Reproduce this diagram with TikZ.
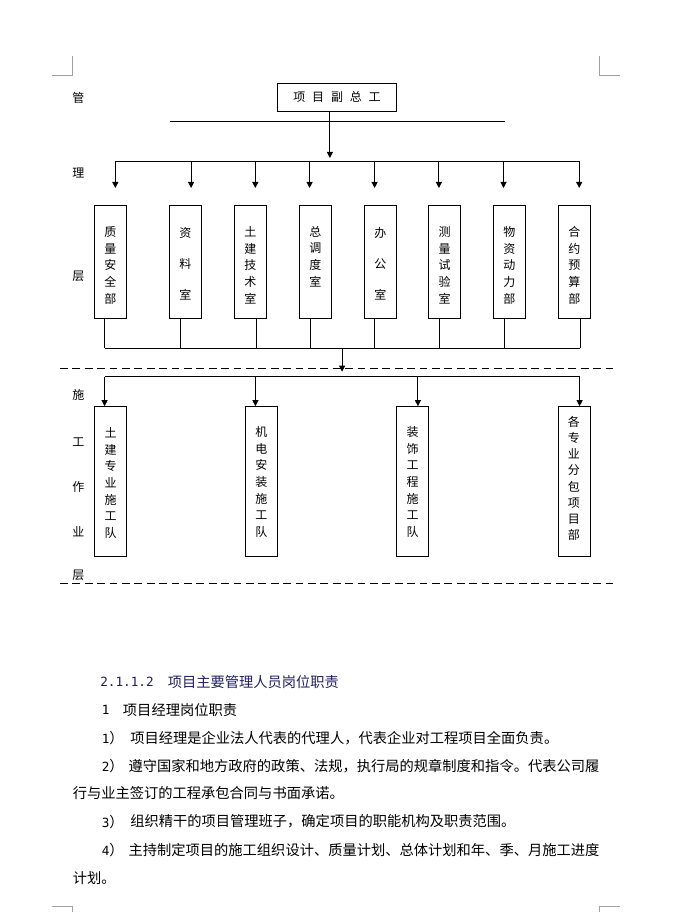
\documentclass[tikz,border=0pt]{standalone}
\usepackage{fontspec}
\newfontfamily\cjk{Noto Sans CJK SC}
\newfontfamily\monofnt{DejaVu Sans Mono}
\usetikzlibrary{arrows.meta}
\definecolor{headnavy}{HTML}{202060}
\definecolor{cropgray}{HTML}{A0A0A0}
\newcommand\colchars[5]{%
  \foreach \ltr [count=\k] in {#5} \node[ch] (#1c\k) at (#2,{#3+#4*(\k-1)}) {\ltr};}
\begin{document}
\begin{tikzpicture}[x=0.75pt,y=-0.75pt,
  line/.style={draw=black,line width=0.75pt},
  arr/.style={line,-{Triangle[length=4.5pt,width=4.5pt]}},
  box/.style={draw=black,line width=0.75pt,minimum width=24.15pt,inner sep=0pt},
  deptbox/.style={box,minimum height=84.4pt},
  teambox/.style={box,minimum height=112pt},
  ch/.style={font=\cjk\fontsize{9}{10}\selectfont,inner sep=0pt},
  body/.style={font=\cjk\fontsize{10.7}{12}\selectfont,inner sep=0pt,anchor=west},
  num/.style={font=\monofnt\fontsize{9.5}{11}\selectfont,inner sep=0pt,anchor=west},
  crop/.style={draw=cropgray,line width=0.75pt},
  sep/.style={draw=black,line width=0.75pt,dash pattern=on 5.8pt off 3.5pt}]

\fill[white] (0,0) rectangle (674,912);
\useasboundingbox (0,0) rectangle (674,912);

% crop marks
\draw[crop] (51.5,75.7) -- (72.5,75.7) -- (72.5,56);
\draw[crop] (620,75.7) -- (599,75.7) -- (599,56);
\draw[crop] (51.5,906) -- (72.5,906) -- (72.5,912);
\draw[crop] (620,906) -- (599,906) -- (599,912);

% side labels
\node[ch] (sg1) at (78.3,98.3) {管};
\node[ch] (sg2) at (78.3,173.3) {理};
\node[ch] (sg3) at (78.3,276.7) {层};
\node[ch] (sw1) at (78.3,395) {施};
\node[ch] (sw2) at (78.3,441.7) {工};
\node[ch] (sw3) at (78.3,487) {作};
\node[ch] (sw4) at (78.3,532) {业};
\node[ch] (sw5) at (78.3,575) {层};

% title
\node[box,minimum width=89.5pt,minimum height=20.8pt,font=\cjk\fontsize{9}{10}\selectfont]
  (title) at (337,97.2) {项\kern5.1pt 目\kern5.1pt 副\kern5.1pt 总\kern5.1pt 工};
\coordinate (ul) at (170,122);
\coordinate (ur) at (504.6,122);
\draw[line] (ul) -- (ur);
\coordinate (tdrop) at (329.9,158);
\draw[arr] (title.south -| tdrop) -- (tdrop);

% top bus and arrows
\coordinate (busL) at (115.3,161.5);
\coordinate (busR) at (579.2,161.5);
\draw[line] (busL) -- (busR);
\foreach \x [count=\i] in {115.3,191.1,255.3,309.6,374.6,438.9,503.5,579.2} {
  \coordinate (ta\i) at (\x,161.5);
  \coordinate (tb\i) at (\x,188);
  \draw[arr] (ta\i) -- (tb\i);
}

% department boxes
\foreach \x [count=\i] in {110.5,185.4,250.3,315.3,380.3,444.6,509.3,574.3}
  \node[deptbox] (d\i) at (\x,262.25) {};
\colchars{d1}{110.3}{231.8}{16.7}{质,量,安,全,部}
\colchars{d2}{185.4}{233.3}{30.9}{资,料,室}
\colchars{d3}{250.3}{231.8}{16.7}{土,建,技,术,室}
\colchars{d4}{315.3}{231.8}{16.7}{总,调,度,室}
\colchars{d5}{380.3}{233.3}{30.9}{办,公,室}
\colchars{d6}{444.6}{231.8}{16.7}{测,量,试,验,室}
\colchars{d7}{509.3}{231.8}{16.7}{物,资,动,力,部}
\colchars{d8}{574.3}{231.8}{16.7}{合,约,预,算,部}

% lower bus of departments
\foreach \x [count=\i] in {104.6,180.4,256.4,310.7,374.3,439.3,504.6,580.4} {
  \coordinate (bb\i) at (\x,348);
  \draw[line] (d\i.south -| bb\i) -- (bb\i);
}
\draw[line] (bb1) -- (bb8);

% separator lines
\coordinate (s1l) at (60,368.3);
\coordinate (s1r) at (614,368.3);
\draw[sep] (s1l) -- (s1r);
\coordinate (s2l) at (60,583.3);
\coordinate (s2r) at (614,583.3);
\draw[sep] (s2l) -- (s2r);

% middle arrow
\coordinate (mtop) at (342.1,348);
\coordinate (mtip) at (342.1,371.7);
\draw[arr] (mtop) -- (mtip);

% team boxes
\foreach \x [count=\i] in {110.6,261.5,412.5,574.6}
  \node[teambox] (t\i) at (\x,481.35) {};
\colchars{t1}{110.6}{433}{16.65}{土,建,专,业,施,工,队}
\colchars{t2}{261.3}{432}{16.65}{机,电,安,装,施,工,队}
\colchars{t3}{412.5}{432}{16.65}{装,饰,工,程,施,工,队}
\colchars{t4}{573.8}{421.7}{16.2}{各,专,业,分,包,项,目,部}

% second bus and arrows
\foreach \x [count=\i] in {104.6,255.4,417.9,579.6}
  \coordinate (ba\i) at (\x,376.7);
\draw[line] (ba1) -- (ba4);
\foreach \i in {1,2,3,4}
  \draw[arr] (ba\i) -- (ba\i |- t\i.north);

% body text
\node[num,text=headnavy] (h1n) at (100,681.7) {2.1.1.2};
\node[body,text=headnavy] (h1t) at (167.5,681.7) {项目主要管理人员岗位职责};
\node[num] (l2n) at (101.5,710) {1};
\node[body] (l2t) at (122.7,710) {项目经理岗位职责};
\node[body] (l3n) at (101.5,738.3) {{\monofnt\fontsize{9.5}{11}\selectfont 1}）};
\node[body] (l3t) at (130,738.3) {项目经理是企业法人代表的代理人，代表企业对工程项目全面负责。};
\node[body] (l4n) at (101.5,766) {{\monofnt\fontsize{9.5}{11}\selectfont 2}）};
\node[body] (l4t) at (128.3,766) {遵守国家和地方政府的政策、法规，执行局的规章制度和指令。代表公司履};
\node[body] (l5t) at (72.5,793.3) {行与业主签订的工程承包合同与书面承诺。};
\node[body] (l6n) at (101.5,821.7) {{\monofnt\fontsize{9.5}{11}\selectfont 3}）};
\node[body] (l6t) at (130,821.7) {组织精干的项目管理班子，确定项目的职能机构及职责范围。};
\node[body] (l7n) at (101.5,850) {{\monofnt\fontsize{9.5}{11}\selectfont 4}）};
\node[body] (l7t) at (128.3,850) {主持制定项目的施工组织设计、质量计划、总体计划和年、季、月施工进度};
\node[body] (l8t) at (72.5,878.3) {计划。};
\end{tikzpicture}
\end{document}
